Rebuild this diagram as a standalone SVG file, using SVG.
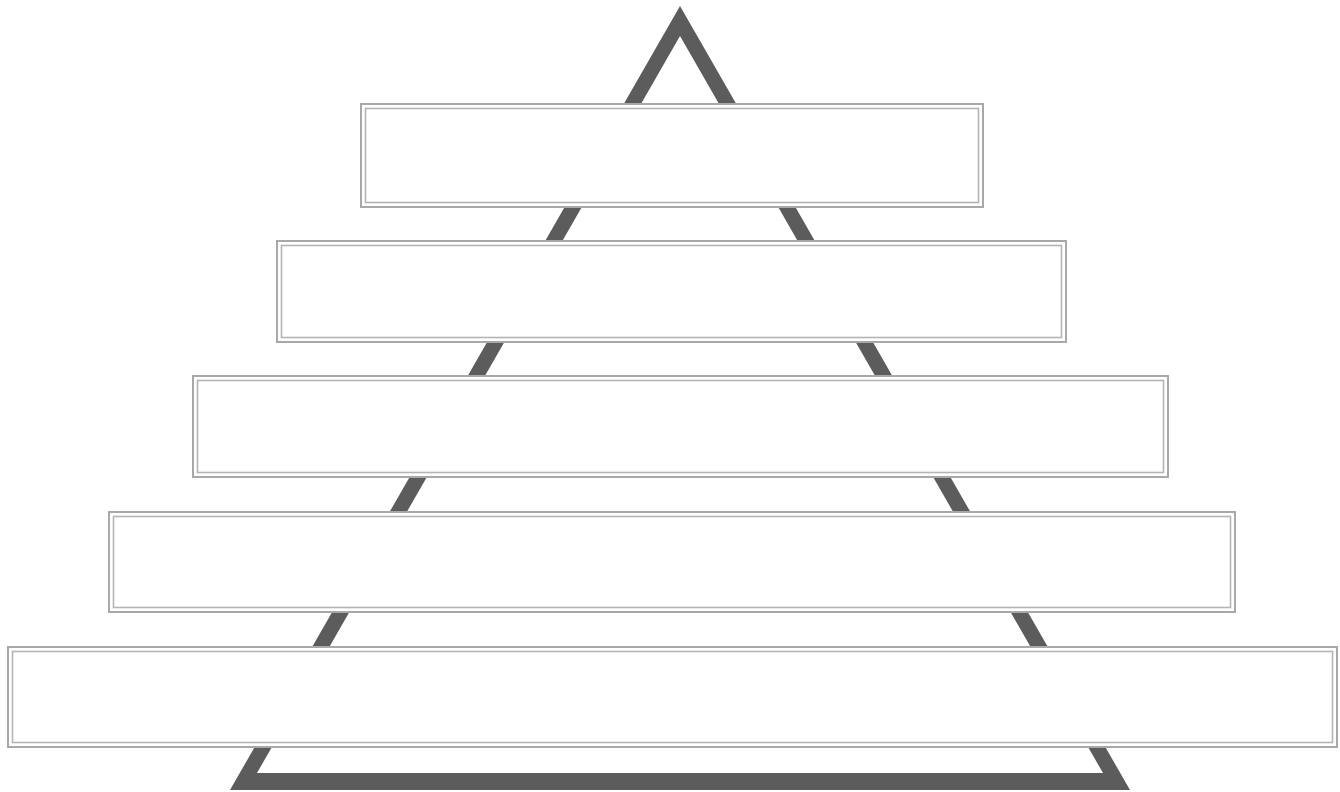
<svg xmlns="http://www.w3.org/2000/svg" width="1340" height="792" viewBox="0 0 1340 792">
<style>
.tri{fill:#5c5c5c;fill-rule:evenodd}
.outer{fill:#fff;stroke:#a8a8a8;stroke-width:2}
.inner{fill:none;stroke:#b4b4b4;stroke-width:1.6}
</style>
<rect width="1340" height="792" fill="#fff"/>
<g id="triangle">
<path class="tri" d="M680,6 L1130,790 L230,790 Z M680,36 L257,773 L1103,773 Z"/>
</g>
<g id="connectors"></g>
<g id="level1"><rect class="outer" x="361" y="104" width="622" height="103"/><rect class="inner" x="365.5" y="108.5" width="613" height="94"/></g>
<g id="level2"><rect class="outer" x="277" y="241" width="789" height="101"/><rect class="inner" x="281.5" y="245.5" width="780" height="92"/></g>
<g id="level3"><rect class="outer" x="193" y="376" width="975" height="101"/><rect class="inner" x="197.5" y="380.5" width="966" height="92"/></g>
<g id="level4"><rect class="outer" x="109" y="512" width="1126" height="100"/><rect class="inner" x="113.5" y="516.5" width="1117" height="91"/></g>
<g id="level5"><rect class="outer" x="8" y="647" width="1329" height="100"/><rect class="inner" x="12.5" y="651.5" width="1320" height="91"/></g>
</svg>
